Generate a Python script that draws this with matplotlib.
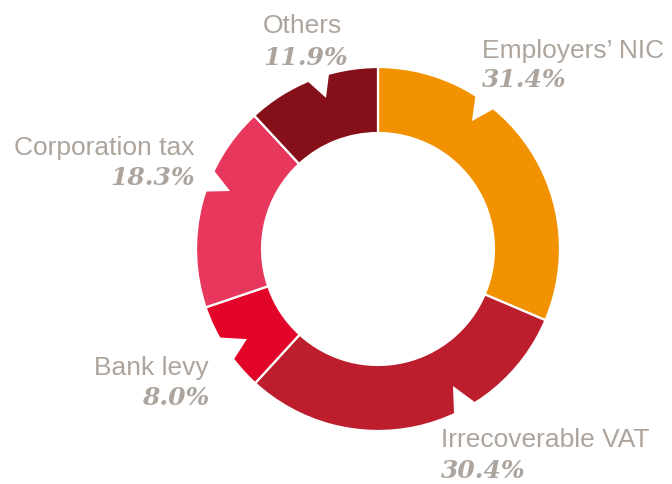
import numpy as np
import matplotlib.pyplot as plt
from matplotlib.patches import Polygon

# tax contribution split
categories = ["Employers\u2019 NIC", "Irrecoverable VAT", "Bank levy", "Corporation tax", "Others"]
shares = [31.4, 30.4, 8.0, 18.3, 11.9]
colors = ["#F39200", "#BC1E2D", "#E3042A", "#E8375C", "#85101A"]

TEXT_GREY = "#ADA59D"

# pixel frame of the ring
W, H = 672, 485
CX, CY, R = 378, 250, 182

# callout notches cut into the outer edge: (edge angle 1, apex angle, apex radius, edge angle 2)
notches = [
    (57.6, 53.7, 0.872, 50.4),
    (112.8, 109.0, 0.878, 105.6),
    (154.4, 158.6, 0.873, 161.6),
    (209.1, 214.5, 0.874, 217.5),
    (294.7, 298.7, 0.858, 302.4),
]

# label anchor points in pixels: (x, name baseline, value baseline, alignment)
label_pos = [
    (482, 58, 87, "left"),
    (441, 447, 478, "left"),
    (209, 375, 405, "right"),
    (195, 155, 185, "right"),
    (263, 33, 65, "left"),
]


def px(x, y):
    return (x - CX) / R, (CY - y) / R


fig = plt.figure(figsize=(W / 100, H / 100), dpi=100)
ax = fig.add_axes([0, 0, 1, 1])
ax.axis("off")

ax.pie(shares, colors=colors, startangle=90, counterclock=False, radius=1.0,
       wedgeprops=dict(width=0.363, edgecolor="white", linewidth=1.6))
ax.set_xlim(-CX / R, (W - CX) / R)
ax.set_ylim(-(H - CY) / R, CY / R)
ax.set_aspect("auto")

for a1, aa, ra, a2 in notches:
    apex = np.array([ra * np.cos(np.radians(aa)), ra * np.sin(np.radians(aa))])
    p1 = np.array([np.cos(np.radians(a1)), np.sin(np.radians(a1))])
    p2 = np.array([np.cos(np.radians(a2)), np.sin(np.radians(a2))])
    q1 = apex + (p1 - apex) * 1.6
    q2 = apex + (p2 - apex) * 1.6
    ax.add_patch(Polygon([q1, apex, q2], closed=True, facecolor="white",
                         edgecolor="none", zorder=5))

for name, val, (x, yn, yv, ha) in zip(categories, shares, label_pos):
    tx, ty = px(x, yn)
    ax.text(tx, ty, name, ha=ha, va="baseline", color=TEXT_GREY,
            fontsize=19, family="Liberation Sans", zorder=6)
    tx, ty = px(x, yv)
    ax.text(tx, ty, f"{val:.1f}%", ha=ha, va="baseline", color=TEXT_GREY,
            fontsize=18, family="DejaVu Serif", fontweight="bold",
            fontstyle="italic", zorder=6)

fig.savefig("out.png", dpi=100)
